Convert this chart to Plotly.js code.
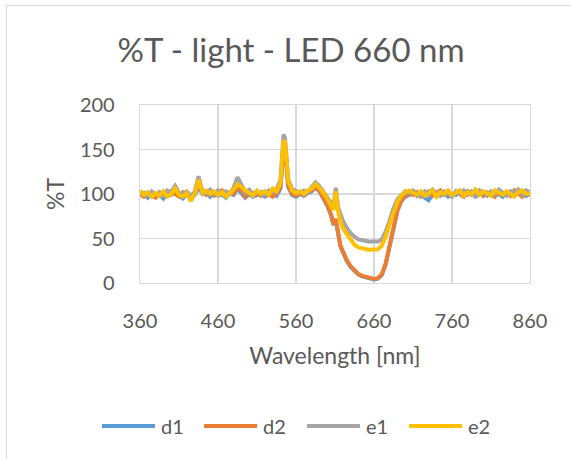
<!DOCTYPE html>
<html>
<head>
<meta charset="utf-8">
<script src="https://cdn.plot.ly/plotly-3.0.1.min.js"></script>
<style>
html,body{margin:0;padding:0;background:#fff;}
#wrap{position:relative;width:571px;height:459px;overflow:hidden;}
#chart{position:absolute;left:0;top:0;width:571px;height:459px;}
#frame{position:absolute;left:6px;top:5px;width:600px;height:500px;border:1.5px solid #d9d9d9;pointer-events:none;}
</style>
</head>
<body>
<div id="wrap"><div id="chart"></div><div id="frame"></div></div>
<script>
// Wavelength (nm)
const wavelength = [360,365,370,375,380,385,390,395,400,405,410,415,420,425,430,435,440,445,450,455,460,465,470,475,480,485,490,495,500,505,510,515,520,525,530,535,540,
  542,544,546,548,
  550,555,560,565,570,575,580,585,590,595,600,605,
  608,611,614,617,
  620,625,630,635,640,645,650,655,660,665,670,675,680,685,690,695,700,
  705,710,715,720,725,730,735,740,745,750,755,760,765,770,775,780,785,790,795,800,805,810,815,820,825,830,835,840,845,850,855,860];

const d1 = [98,101,96,100,97,99,95,101,99,102,98,95,100,97,99,108,100,102,97,101,98,100,96,101,99,106,101,96,100,97,99,102,97,99,101,98,106,
  128,152,150,122,
  108,99,97,100,98,101,103,107,103,95,87,76,
  65,70,53,41,
  35,25,18,13,9.5,7.5,6,5,4,5,9,21,41,63,81,92,97,
  99,102,98,100,96,93,99,102,98,101,97,100,99,102,98,100,103,97,100,102,98,101,99,100,97,101,103,99,101,102,98,100];

const d2 = [100,97,101,99,96,102,100,98,103,100,97,102,99,96,101,110,104,99,102,98,101,104,99,102,100,108,104,97,103,99,101,98,102,100,97,101,108,
  130,155,152,125,
  110,100,98,101,99,102,104,108,104,96,88,77,
  66,72,55,42,
  36,26,19,14,10,8,6.5,5.5,4.5,5.5,10,22,42,64,82,93,98,
  101,99,102,97,100,103,98,101,104,99,101,98,102,100,97,103,99,101,104,98,102,100,97,103,100,102,98,104,100,97,102,99];

const e1 = [101,100,98,103,99,101,98,104,102,109,101,100,103,98,102,120,103,101,105,100,104,99,103,100,107,119,110,102,105,100,103,101,99,104,102,106,115,
  140,167,162,134,
  117,106,103,101,104,102,108,113,109,103,97,90,
  86,107,85,78,
  70,62,56,52,49,48,47,46.5,47,46.5,49,58,70,84,94,99,103,
  101,104,100,98,103,99,105,101,98,103,100,97,103,100,104,99,102,98,104,101,99,103,100,105,101,98,103,101,105,99,104,102];

const e2 = [104,99,102,97,101,98,103,97,100,106,99,97,101,92,100,116,101,104,100,103,99,102,97,101,105,111,108,104,102,98,104,100,103,99,106,103,112,
  135,160,158,130,
  115,104,101,103,100,104,106,111,107,101,95,86,
  82,103,80,70,
  62,55,48,43,40,38.5,38,37.5,37.5,38,42,52,66,80,91,98,102,
  104,101,99,103,98,101,104,97,102,100,104,99,101,104,98,102,100,105,99,103,101,98,104,102,99,103,100,97,102,104,100,101];

const seriesNames = ['d1','d2','e1','e2'];
const seriesData = [d1,d2,e1,e2];
const seriesColors = ['#5B9BD5','#ED7D31','#A5A5A5','#FFC000'];
const xTicks = [360,460,560,660,760,860];
const yTicks = [0,50,100,150,200];

const FONT = 'Lato, "Open Sans", sans-serif';
const TXT = '#595959';
const GRID = '#d9d9d9';

const traces = seriesNames.map((n,i)=>({
  type:'scatter', mode:'lines', name:n,
  x: wavelength, y: seriesData[i],
  line:{color:seriesColors[i], width:4},
  showlegend:false
}));

// custom legend (below the plot), positions in pixels converted to paper coords
const L = 140, W = 390, B = 283, H = 178;
const px2x = p => (p - L)/W;
const py2y = p => (B - p)/H;
const legendLineStart = [102, 204, 307, 409];
const legendY = 426;
const shapes = [], annotations = [];
seriesNames.forEach((n,i)=>{
  shapes.push({type:'line', xref:'paper', yref:'paper',
    x0:px2x(legendLineStart[i]), x1:px2x(legendLineStart[i]+53),
    y0:py2y(legendY), y1:py2y(legendY),
    line:{color:seriesColors[i], width:4}});
  annotations.push({xref:'paper', yref:'paper', x:px2x(legendLineStart[i]+57), y:py2y(legendY),
    xanchor:'left', yanchor:'middle', showarrow:false, text:n,
    font:{family:FONT, size:20, color:TXT}});
});

const layout = {
  width:571, height:459,
  margin:{l:140, r:41, t:105, b:176},
  paper_bgcolor:'rgba(0,0,0,0)', plot_bgcolor:'#fff',
  font:{family:FONT, color:TXT, size:20},
  title:{text:'%T - light - LED 660 nm', x:291/571, xref:'container', xanchor:'center',
    y:1-50/459, yref:'container', yanchor:'middle',
    font:{family:FONT, size:33, color:TXT}},
  xaxis:{range:[360,860], tickvals:xTicks, ticktext:xTicks.map(String),
    showgrid:true, gridcolor:GRID, gridwidth:1.3,
    showline:true, linecolor:GRID, linewidth:1.3, mirror:true, zeroline:false,
    ticks:'', ticklabelstandoff:20,
    tickfont:{family:FONT, size:20, color:TXT},
    title:{text:'Wavelength [nm]', standoff:16, font:{family:FONT, size:23, color:TXT}}},
  yaxis:{range:[0,200], tickvals:yTicks, ticktext:yTicks.map(String),
    showgrid:true, gridcolor:GRID, gridwidth:1.3,
    showline:true, linecolor:GRID, linewidth:1.3, mirror:true, zeroline:false,
    ticks:'', ticklabelstandoff:20,
    tickfont:{family:FONT, size:20, color:TXT},
    title:{text:'%T', standoff:8, font:{family:FONT, size:23, color:TXT}}},
  shapes:shapes, annotations:annotations,
  showlegend:false
};

Plotly.newPlot('chart', traces, layout, {staticPlot:true, displayModeBar:false});
</script>
</body>
</html>
